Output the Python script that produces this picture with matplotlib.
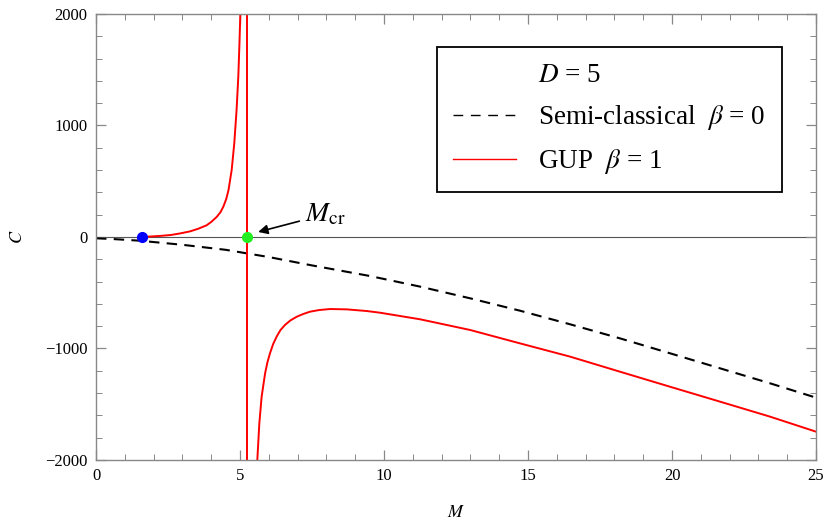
"""
Heat capacity C(M) for D = 5: semi-classical vs GUP corrected.
"""
import matplotlib
matplotlib.use("Agg")
import matplotlib.pyplot as plt
from matplotlib.lines import Line2D
from matplotlib.ticker import MultipleLocator

plt.rcParams["font.family"] = ["Liberation Serif", "DejaVu Serif"]
plt.rcParams["mathtext.fontset"] = "stix"

# semi-classical (beta = 0)
m_semi = [0, 0.5, 1.5, 3, 4.5, 6, 7.5, 9.51, 11.25, 12.99, 14.72, 16.46, 18.19, 19.93,
          21.67, 23.4, 25]
c_semi = [-12, -17, -33, -70, -115, -180, -255, -350, -445, -550, -661, -783, -909, -1043,
          -1178, -1312, -1441]

# GUP (beta = 1), branch below M_cr (positive heat capacity)
m_gup_lo = [1.59, 2.0, 2.3, 2.6, 2.9, 3.26, 3.55, 3.84, 4.0, 4.19, 4.32, 4.42, 4.52, 4.60,
            4.71, 4.80, 4.88, 4.94, 4.98, 5.01, 5.03]
c_gup_lo = [0, 6, 11, 18, 31, 50, 74, 105, 135, 180, 222, 272, 340, 421,
            601, 840, 1139, 1438, 1737, 2000, 2200]

# GUP (beta = 1), branch above M_cr (negative heat capacity)
m_gup_hi = [5.58, 5.60, 5.67, 5.75, 5.87, 5.95, 6.04, 6.15, 6.27, 6.40, 6.56, 6.75, 6.97,
            7.2, 7.43, 7.75, 8.13, 8.70, 9.40, 9.86, 11.25, 12.99, 14.72, 16.46, 18.19,
            19.93, 21.67, 23.4, 25]
c_gup_hi = [-2200, -2000, -1671, -1432, -1223, -1125, -1043, -960, -894, -836, -789, -748,
            -715, -690, -670, -655, -646, -649, -664, -679, -738, -834, -954, -1073, -1208,
            -1343, -1477, -1611, -1746]

m_remnant = 1.59
m_cr = 5.25

fig = plt.figure(figsize=(8.3, 5.31), dpi=100)
ax = fig.add_axes([0.1157, 0.1337, 0.8675, 0.84])

ax.axhline(0, color="#555555", lw=0.8, zorder=1)
ax.plot(m_semi, c_semi, color="black", ls=(0, (5, 3.5)), lw=1.5, zorder=2)
ax.plot(m_gup_lo, c_gup_lo, color="red", lw=1.4, zorder=2)
ax.plot(m_gup_hi, c_gup_hi, color="red", lw=1.4, zorder=2)
ax.axvline(m_cr, color="red", lw=1.4, zorder=2)

ax.plot([m_remnant], [0], "o", color="blue", ms=7, zorder=4)
ax.plot([m_cr], [0], "o", color="#22ee22", ms=7, zorder=4)

ax.annotate(r"$M_{\rm cr}$", xy=(5.63, 45), xytext=(7.25, 88),
            fontsize=20, ha="left", va="bottom",
            arrowprops=dict(arrowstyle="-|>", color="black", lw=1.2,
                            shrinkA=2, shrinkB=0, mutation_scale=14))

ax.set_xlim(0, 25)
ax.set_ylim(-2000, 2000)
ax.xaxis.set_major_locator(MultipleLocator(5))
ax.xaxis.set_minor_locator(MultipleLocator(1))
ax.yaxis.set_major_locator(MultipleLocator(1000))
ax.yaxis.set_minor_locator(MultipleLocator(200))
ax.tick_params(which="both", direction="in", top=True, right=True,
               color="#888888", labelsize=12, pad=6)
ax.tick_params(which="major", length=7, width=0.9)
ax.tick_params(which="minor", length=4, width=0.7)
for s in ax.spines.values():
    s.set_color("#888888")
    s.set_linewidth(1.0)

ax.set_xlabel(r"$M$", fontsize=13, labelpad=14)
ax.set_ylabel(r"$C$", fontsize=13, labelpad=14)

handles = [Line2D([], [], color="none"),
           Line2D([], [], color="black", ls=(0, (7, 5.5)), lw=1.0),
           Line2D([], [], color="red", lw=1.0)]
labels = [r"$D$ = 5", r"Semi-classical  $\beta$ = 0", r"GUP  $\beta$ = 1"]
leg = ax.legend(handles, labels, loc="upper left", bbox_to_anchor=(0.4736, 0.926),
                borderaxespad=0, fontsize=19.5, frameon=True, fancybox=False,
                framealpha=1, edgecolor="black", handlelength=2.33, handletextpad=0.8,
                labelspacing=0.55, borderpad=0.6)
leg.get_frame().set_linewidth(1.3)

fig.savefig("out.png", dpi=100)
